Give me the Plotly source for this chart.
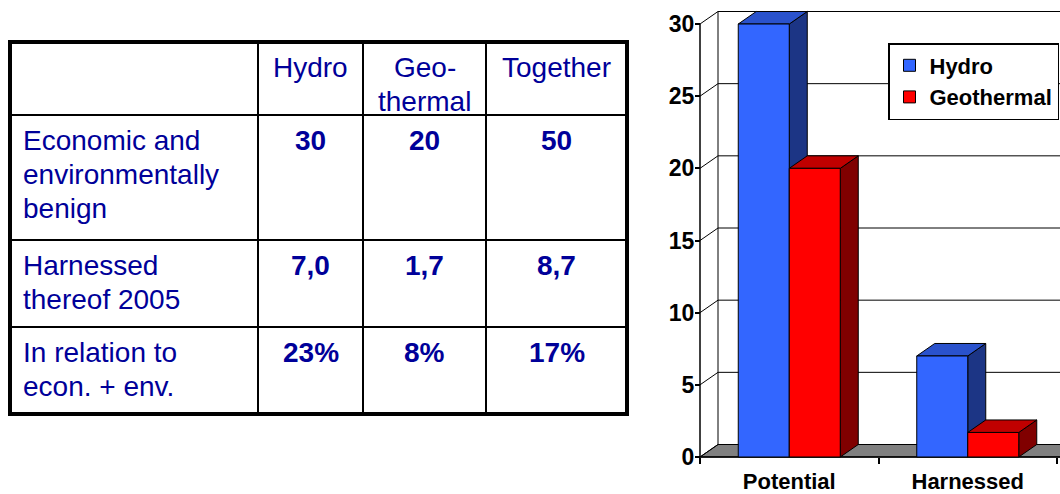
import plotly.graph_objects as go

W, H = 1060, 494

# ---------------- data ----------------
table_header = ["Hydro", "Geo-<br>thermal", "Together"]
row_labels = ["Economic and<br>environmentally<br>benign",
              "Harnessed<br>thereof 2005",
              "In relation to<br>econ. + env."]
hydro_col = ["30", "7,0", "23%"]
geo_col = ["20", "1,7", "8%"]
together_col = ["50", "8,7", "17%"]

categories = ["Potential", "Harnessed"]
series_names = ["Hydro", "Geothermal"]
hydro = [30, 7.0]
geothermal = [20, 1.7]
y_ticks = [0, 5, 10, 15, 20, 25, 30]

# ---------------- styles ----------------
FONT = "Liberation Sans, Arial, sans-serif"
NAVY = "#000099"
front_cols = ["#3366FF", "#FF0000"]
top_cols = ["#2A52CC", "#C00000"]
side_cols = ["#1C3585", "#800000"]


def px(x):
    return x / W


def py(y):
    return 1 - y / H


shapes = []
annotations = []

# ---------------- table ----------------
col_edges = [10, 258, 363, 486, 627]
row_edges = [42, 115, 240, 327, 414]
TFS = 28
LINE_H = 34

for i, xe in enumerate(col_edges):
    outer = i in (0, len(col_edges) - 1)
    shapes.append(dict(type="line", xref="paper", yref="paper",
                       x0=px(xe), x1=px(xe), y0=py(row_edges[0]), y1=py(row_edges[-1]),
                       line=dict(color="black", width=4 if outer else 2)))
for j, ye in enumerate(row_edges):
    outer = j in (0, len(row_edges) - 1)
    shapes.append(dict(type="line", xref="paper", yref="paper",
                       x0=px(col_edges[0] - (2 if outer else 0)), x1=px(col_edges[-1] + (2 if outer else 0)),
                       y0=py(ye), y1=py(ye),
                       line=dict(color="black", width=4 if outer else 2)))


def cell_text(text, xc, row_top, anchor, bold=False):
    for i, line in enumerate(text.split("<br>")):
        yc = row_top + 25 + i * LINE_H
        annotations.append(dict(xref="paper", yref="paper", x=px(xc), y=py(yc),
                                text=("<b>%s</b>" % line) if bold else line,
                                showarrow=False, xanchor=anchor, yanchor="middle",
                                font=dict(family=FONT, size=TFS, color=NAVY)))


col_centers = [(col_edges[k] + col_edges[k + 1]) / 2 for k in range(1, 4)]
for k, h in enumerate(table_header):
    cell_text(h, col_centers[k], row_edges[0], "center")
for r, lab in enumerate(row_labels):
    cell_text(lab, 21, row_edges[r + 1], "left")
    for k, col in enumerate([hydro_col, geo_col, together_col]):
        cell_text(col[r], col_centers[k], row_edges[r + 1], "center", bold=True)

# ---------------- 3D bar chart ----------------
X0PX = 700          # pixel of x = -0.5
PXX = 178.5         # pixels per category unit
Y0PX = 457          # pixel of y = 0
PXY = 433 / 30      # pixels per value unit
DX = 18 / PXX       # depth offset (x)
DY = 12.5 / PXY     # depth offset (y)
BW = 51 / PXX       # bar width

dom_x0 = 690
dom_y1 = 470
x_range = [-0.5 - (X0PX - dom_x0) / PXX, -0.5 + (W - X0PX) / PXX]
y_range = [-(dom_y1 - Y0PX) / PXY, Y0PX / PXY]
xr = x_range[1]
xl = -0.5

fig = go.Figure()
xc = list(range(len(categories)))

for s, (name, vals) in enumerate(zip(series_names, [hydro, geothermal])):
    fig.add_trace(go.Bar(x=xc, y=vals, name=name, width=BW, offset=(s - 1) * BW,
                         marker=dict(color=front_cols[s], line=dict(color="black", width=1)),
                         xaxis="x2", yaxis="y2", hoverinfo="skip"))

S = dict(xref="x2", yref="y2", layer="below")
# floor
shapes.append(dict(type="path", **S,
                   path=f"M{xl},0 L{xl + DX},{DY} L{xr + DX},{DY} L{xr},0 Z",
                   fillcolor="#808080", line=dict(color="black", width=1)))
# back wall grid lines and side wall diagonals
for t in y_ticks:
    shapes.append(dict(type="line", **S, x0=xl + DX, x1=xr + DX, y0=t + DY, y1=t + DY,
                       line=dict(color="black", width=1)))
    shapes.append(dict(type="line", **S, x0=xl, x1=xl + DX, y0=t, y1=t + DY,
                       line=dict(color="black", width=1)))
shapes.append(dict(type="line", **S, x0=xl + DX, x1=xl + DX, y0=DY, y1=y_ticks[-1] + DY,
                   line=dict(color="black", width=1)))
shapes.append(dict(type="line", **S, x0=xl, x1=xl, y0=0, y1=y_ticks[-1],
                   line=dict(color="black", width=1.5)))
shapes.append(dict(type="line", **S, x0=xl, x1=xr, y0=0, y1=0,
                   line=dict(color="black", width=1.5)))

# bar sides and tops
for c in xc:
    for s, vals in enumerate([hydro, geothermal]):
        v = vals[c]
        a = c + (s - 1) * BW
        b = a + BW
        shapes.append(dict(type="path", **S,
                           path=f"M{b},0 L{b + DX},{DY} L{b + DX},{v + DY} L{b},{v} Z",
                           fillcolor=side_cols[s], line=dict(color="black", width=1)))
        shapes.append(dict(type="path", **S,
                           path=f"M{a},{v} L{a + DX},{v + DY} L{b + DX},{v + DY} L{b},{v} Z",
                           fillcolor=top_cols[s], line=dict(color="black", width=1)))

AX_FONT = dict(family=FONT, size=23, color="black")

fig.update_layout(
    width=W, height=H,
    margin=dict(l=0, r=0, t=0, b=0),
    paper_bgcolor="white", plot_bgcolor="rgba(0,0,0,0)",
    barmode="overlay",
    showlegend=True,
    legend=dict(x=px(888), y=py(43), xanchor="left", yanchor="top",
                bgcolor="white", bordercolor="black", borderwidth=1.5,
                font=dict(family=FONT, size=22, color="black", weight="bold"),
                itemclick=False, itemdoubleclick=False),
    xaxis2=dict(domain=[px(dom_x0), 1], range=x_range, anchor="free", position=py(Y0PX),
                tickmode="array", tickvals=xc, ticktext=["<b>%s</b>" % c for c in categories],
                ticks="", showline=False, showgrid=False, zeroline=False,
                tickfont=dict(family=FONT, size=22, color="black"),
                ticklabelstandoff=9, fixedrange=True,
                minor=dict(tickmode="array", tickvals=[xl + k for k in range(len(categories) + 1)],
                           ticks="outside", ticklen=6, tickcolor="black", tickwidth=1.5,
                           showgrid=False)),
    yaxis2=dict(domain=[py(dom_y1), 1], range=y_range, anchor="free", position=px(X0PX),
                tickmode="array", tickvals=y_ticks, ticktext=["<b>%d</b>" % t for t in y_ticks],
                ticks="outside", ticklen=5, tickcolor="black", tickwidth=1.5,
                showline=False, showgrid=False, zeroline=False,
                tickfont=AX_FONT, ticklabelstandoff=-4, fixedrange=True),
    shapes=shapes,
    annotations=annotations,
)

fig.write_html("out.html", config={"displayModeBar": False},
               post_script="document.body.style.margin='0';")
